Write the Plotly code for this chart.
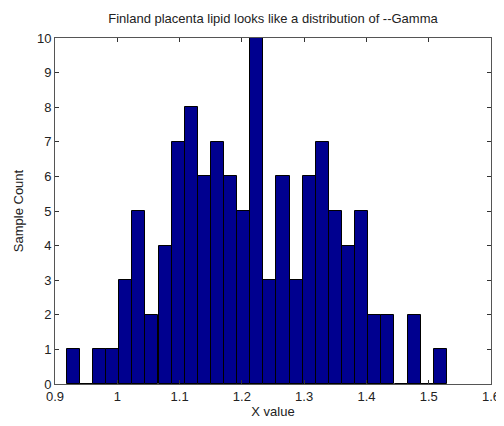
import plotly.graph_objects as go

bin_centers = [0.9293, 0.9504, 0.9714, 0.9925, 1.0135, 1.0346, 1.0556, 1.0767,
               1.0977, 1.1188, 1.1398, 1.1609, 1.1819, 1.2030, 1.2240, 1.2451,
               1.2661, 1.2872, 1.3082, 1.3293, 1.3503, 1.3714, 1.3924, 1.4135,
               1.4345, 1.4556, 1.4766, 1.4977, 1.5187]
counts = [1, 0, 1, 1, 3, 5, 2, 4, 7, 8, 6, 7, 6, 5, 10, 3, 6, 3, 6, 7,
          5, 4, 5, 2, 2, 0, 2, 0, 1]
bin_width = 0.02105
x_ticks = [0.9, 1.0, 1.1, 1.2, 1.3, 1.4, 1.5, 1.6]
x_tick_labels = ["0.9", "1", "1.1", "1.2", "1.3", "1.4", "1.5", "1.6"]
y_ticks = list(range(0, 11))

fig = go.Figure()
fig.add_trace(go.Bar(
    x=bin_centers, y=counts, width=bin_width,
    marker=dict(color="#00008F", line=dict(color="#000000", width=1)),
))

font = dict(family="Liberation Sans, Arial, sans-serif", size=13, color="#222222")
axis_common = dict(
    showgrid=False, zeroline=False, showline=True, linecolor="#555555", linewidth=1,
    mirror="ticks", ticks="inside", ticklen=4, tickcolor="#333333",
    tickfont=font, automargin=False,
)
# page body has an 8px margin, so the figure is made 8px smaller to fit
fig.update_layout(
    width=496, height=418,
    margin=dict(l=47, r=13, t=30, b=42, autoexpand=False),
    paper_bgcolor="white", plot_bgcolor="white",
    showlegend=False, bargap=0,
    font=font,
    title=dict(text="Finland placenta lipid looks like a distribution of --Gamma",
               x=0.5, xanchor="center", xref="paper", y=0.975, yanchor="middle",
               font=font),
    xaxis=dict(range=[0.9, 1.6], tickvals=x_ticks, ticktext=x_tick_labels,
               title=dict(text="X value", standoff=4, font=font), **axis_common),
    yaxis=dict(range=[0, 10], tickvals=y_ticks,
               title=dict(text="Sample Count", standoff=10, font=font), **axis_common),
)
fig.write_html("out.html")
